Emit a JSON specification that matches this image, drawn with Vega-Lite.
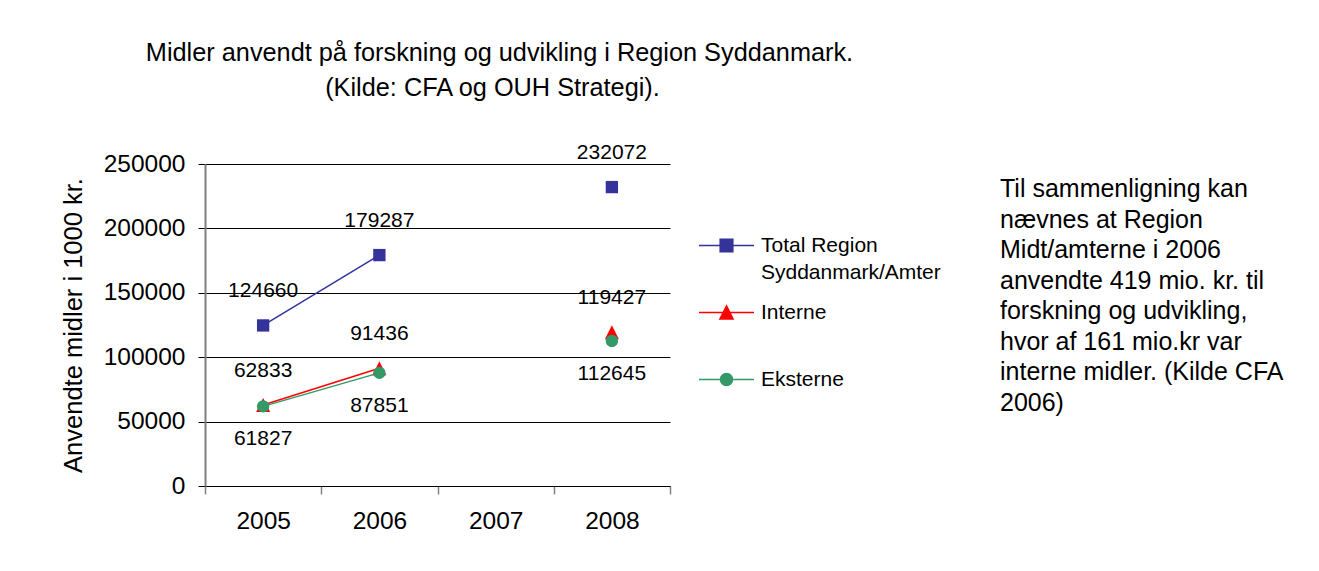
{
  "$schema": "https://vega.github.io/schema/vega-lite/v6.json",
  "background": "white",
  "padding": {"left": 61, "top": 40, "right": 0, "bottom": 0},
  "config": {"font": "Liberation Sans", "view": {"stroke": null}},
  "bounds": "flush",
  "spacing": 329,
  "hconcat": [
    {
      "width": 465,
      "height": 322,
      "title": {
        "text": ["Midler anvendt på forskning og udvikling i Region Syddanmark.", "(Kilde: CFA og OUH Strategi).\u00a0\u00a0\u200b"],
        "fontSize": 25.3,
        "fontWeight": "normal",
        "color": "black",
        "lineHeight": 35,
        "anchor": "middle",
        "dx": 62,
        "offset": 41
      },
      "data": {
        "values": [
          {"year": 2005, "serie": "Total Region Syddanmark/Amter", "value": 124660},
          {"year": 2006, "serie": "Total Region Syddanmark/Amter", "value": 179287},
          {"year": 2007, "serie": "Total Region Syddanmark/Amter", "value": null},
          {"year": 2008, "serie": "Total Region Syddanmark/Amter", "value": 232072},
          {"year": 2005, "serie": "Interne", "value": 62833},
          {"year": 2006, "serie": "Interne", "value": 91436},
          {"year": 2007, "serie": "Interne", "value": null},
          {"year": 2008, "serie": "Interne", "value": 119427},
          {"year": 2005, "serie": "Eksterne", "value": 61827},
          {"year": 2006, "serie": "Eksterne", "value": 87851},
          {"year": 2007, "serie": "Eksterne", "value": null},
          {"year": 2008, "serie": "Eksterne", "value": 112645}
        ]
      },
      "encoding": {
        "x": {
          "field": "year",
          "type": "quantitative",
          "scale": {"domain": [2004.5, 2008.5], "nice": false, "zero": false},
          "axis": {
            "title": null,
            "values": [2004.5, 2005.5, 2006.5, 2007.5, 2008.5],
            "labelExpr": "datum.value < 2008 ? format(datum.value + 0.5, 'd') : ''",
            "labelOffset": 58.125,
            "labelPadding": 15,
            "labelFontSize": 24.5,
            "labelColor": "black",
            "labelOverlap": false,
            "labelFlush": false,
            "labelBound": false,
            "tickSize": 8,
            "tickColor": "#808080",
            "tickWidth": 1.5,
            "domainColor": "black",
            "domainWidth": 1,
            "grid": false
          }
        },
        "y": {
          "field": "value",
          "type": "quantitative",
          "scale": {"domain": [0, 250000], "nice": false},
          "axis": {
            "title": "Anvendte midler i 1000 kr.",
            "titleFontSize": 25.5,
            "titleFontWeight": "normal",
            "titleColor": "black",
            "titlePadding": 17,
            "values": [0, 50000, 100000, 150000, 200000, 250000],
            "format": "d",
            "labelFontSize": 24.5,
            "labelColor": "black",
            "labelPadding": 13,
            "tickSize": 7,
            "tickColor": "black",
            "domainColor": "#808080",
            "domainWidth": 2,
            "grid": true,
            "gridColor": "black",
            "gridWidth": 1,
            "gridOpacity": 1
          }
        },
        "color": {
          "field": "serie",
          "type": "nominal",
          "scale": {
            "domain": ["Total Region Syddanmark/Amter", "Interne", "Eksterne"],
            "range": ["#333399", "#FF0000", "#339966"]
          },
          "legend": {
            "orient": "none",
            "legendX": 493,
            "legendY": 53,
            "title": null,
            "padding": 0,
            "labelFontSize": 21,
            "labelColor": "black",
            "labelLimit": 400,
            "labelOffset": 6,
            "symbolSize": 3025,
            "rowPadding": 1,
            "gridAlign": "all",
            "labelExpr": "datum.value === 'Total Region Syddanmark/Amter' ? ['Total Region', 'Syddanmark/Amter'] : datum.label",
            "encode": {
              "symbols": {
                "update": {
                  "shape": {"signal": "datum.value === 'Interne' ? 'M-1,0H1M0,-0.24L0.24,0.24H-0.24Z' : datum.value === 'Eksterne' ? 'M-1,0H1M-0.22,0A0.22,0.22 0 1,0 0.22,0A0.22,0.22 0 1,0 -0.22,0Z' : 'M-1,0H1M-0.23,-0.23H0.23V0.23H-0.23Z'"},
                  "fill": {"signal": "scale('color', datum.value)"},
                  "stroke": {"signal": "scale('color', datum.value)"},
                  "strokeWidth": {"value": 1.5},
                  "size": {"value": 3025},
                  "opacity": {"value": 1},
                  "fillOpacity": {"value": 1},
                  "strokeOpacity": {"value": 1}
                }
              },
              "labels": {
                "update": {
                  "lineHeight": {"value": 27}
                }
              }
            }
          }
        }
      },
      "layer": [
        {
          "mark": {"type": "line", "strokeWidth": 1.5, "invalid": "break-paths-show-domains"}
        },
        {
          "transform": [{"filter": "datum.serie === 'Total Region Syddanmark/Amter'"}],
          "mark": {"type": "point", "filled": true, "opacity": 1, "size": 196, "shape": "M-0.88,-0.88H0.88V0.88H-0.88Z"}
        },
        {
          "transform": [{"filter": "datum.serie === 'Interne'"}],
          "mark": {"type": "point", "filled": true, "opacity": 1, "size": 196, "shape": "M0,-1L1,1H-1Z"}
        },
        {
          "transform": [{"filter": "datum.serie === 'Eksterne'"}],
          "mark": {"type": "point", "filled": true, "opacity": 1, "size": 196, "shape": "M-0.88,0A0.88,0.88 0 1,0 0.88,0A0.88,0.88 0 1,0 -0.88,0Z"}
        },
        {
          "transform": [{"filter": "datum.serie !== 'Eksterne'"}],
          "mark": {"type": "text", "dy": -34, "fontSize": 21, "color": "black"},
          "encoding": {"text": {"field": "value", "type": "quantitative", "format": "d"}, "color": {"value": "black"}}
        },
        {
          "transform": [{"filter": "datum.serie === 'Eksterne'"}],
          "mark": {"type": "text", "dy": 33, "fontSize": 21, "color": "black"},
          "encoding": {"text": {"field": "value", "type": "quantitative", "format": "d"}, "color": {"value": "black"}}
        }
      ]
    },
    {
      "width": 2,
      "height": 322,
      "data": {
        "values": [
          {"line": 1, "text": "Til sammenligning kan"},
          {"line": 2, "text": "nævnes at Region"},
          {"line": 3, "text": "Midt/amterne i 2006"},
          {"line": 4, "text": "anvendte 419 mio. kr. til"},
          {"line": 5, "text": "forskning og udvikling,"},
          {"line": 6, "text": "hvor af 161 mio.kr var"},
          {"line": 7, "text": "interne midler. (Kilde CFA"},
          {"line": 8, "text": "2006)"}
        ]
      },
      "mark": {"type": "text", "align": "left", "baseline": "alphabetic", "fontSize": 25, "color": "black"},
      "encoding": {
        "y": {
          "field": "line",
          "type": "quantitative",
          "scale": {"domain": [-0.082, 10.475], "reverse": true, "nice": false, "zero": false},
          "axis": null
        },
        "text": {"field": "text", "type": "nominal"}
      }
    }
  ]
}
